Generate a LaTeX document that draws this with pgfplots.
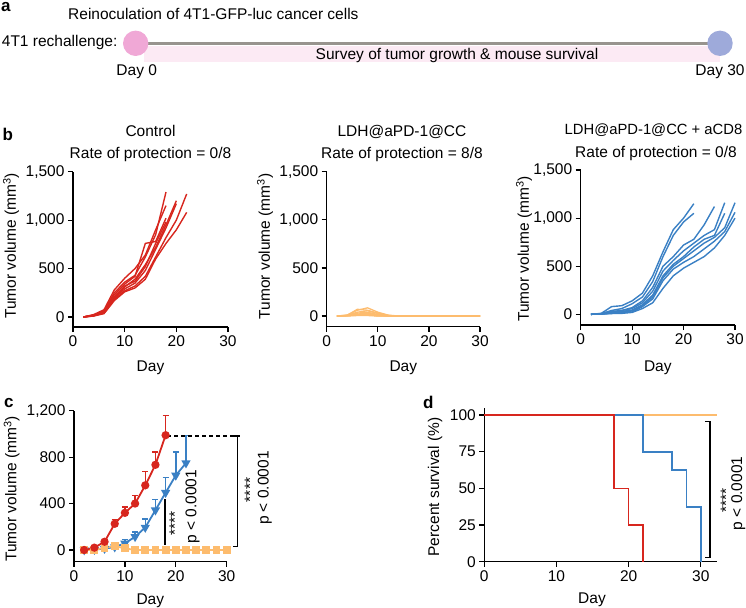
\documentclass[border=0pt]{standalone}
\usepackage{fontspec}
\setmainfont{Liberation Sans}
\usepackage{pgfplots}
\pgfplotsset{compat=1.18}
\definecolor{cred}{RGB}{215,38,30}
\definecolor{cblue}{RGB}{58,128,196}
\definecolor{corange}{RGB}{253,188,110}
\definecolor{cpink}{RGB}{240,168,214}
\definecolor{cperi}{RGB}{158,170,218}
\definecolor{cgrayline}{RGB}{152,148,142}
\definecolor{cband}{RGB}{252,234,244}
\newcommand{\fs}{\fontsize{15.5}{18}\selectfont}
\newcommand{\fb}{\fontsize{17}{20}\selectfont\bfseries}
\pgfplotsset{gp/.style={scale only axis, axis x line*=bottom, axis y line*=left,
  axis line style={line width=1.3pt, black}, tick style={line width=1.2pt, black},
  major tick length=5pt, tick align=outside, tick label style={font=\fs},
  /pgf/number format/assume math mode=true, /pgf/number format/1000 sep={,},
  scaled ticks=false, clip=false, xtick={0,10,20,30}},
  cr/.style={cred, line width=1.4pt, line join=round, mark=none},
  co/.style={corange, line width=1.3pt, line join=round, mark=none},
  cb/.style={cblue, line width=1.4pt, line join=round, mark=none}}
\begin{document}
\begin{tikzpicture}
\path[use as bounding box] (0,0) rectangle (746pt,-607pt);
% ---------- panel a
\node[anchor=base west, font=\fb, inner sep=0] at (1pt,-12pt) {a};
\node[anchor=base west, font=\fs, inner sep=0] at (68pt,-20pt) {Reinoculation of 4T1-GFP-luc cancer cells};
\node[anchor=base west, font=\fs, inner sep=0] at (1.7pt,-46.7pt) {4T1 rechallenge:};
\fill[cband] (144pt,-45.7pt) rectangle (720pt,-61.7pt);
\draw[cgrayline, line width=2.7pt] (140pt,-43.3pt) -- (712pt,-43.3pt);
\fill[cpink] (135.7pt,-43.3pt) circle (12.7pt);
\fill[cperi] (720pt,-43.3pt) circle (12.7pt);
\node[anchor=base, font=\fs, inner sep=0] at (457pt,-59.5pt) {Survey of tumor growth \& mouse survival};
\node[anchor=base, font=\fs, inner sep=0] at (136.7pt,-76pt) {Day 0};
\node[anchor=base, font=\fs, inner sep=0] at (720pt,-76pt) {Day 30};
% ---------- panel b letters and titles
\node[anchor=base west, font=\fb, inner sep=0] at (2.5pt,-140pt) {b};
\node[anchor=base, font=\fs, inner sep=0] at (150.5pt,-136pt) {Control};
\node[anchor=base, font=\fs, inner sep=0] at (150.5pt,-158pt) {Rate of protection = 0/8};
\node[anchor=base, font=\fs, inner sep=0] at (402pt,-136pt) {LDH@aPD-1@CC};
\node[anchor=base, font=\fs, inner sep=0] at (402pt,-158pt) {Rate of protection = 8/8};
\node[anchor=base, font=\fontsize{14.8}{18}\selectfont, inner sep=0] at (653.5pt,-135pt) {LDH@aPD-1@CC + aCD8};
\node[anchor=base, font=\fs, inner sep=0] at (656pt,-157pt) {Rate of protection = 0/8};
\node[rotate=90, font=\fs, inner sep=0] at (11pt,-246pt) {Tumor volume (mm\textsuperscript{3})};
\node[rotate=90, font=\fs, inner sep=0] at (265pt,-246.5pt) {Tumor volume (mm\textsuperscript{3})};
\node[rotate=90, font=\fs, inner sep=0] at (524pt,-249pt) {Tumor volume (mm\textsuperscript{3})};
\node[anchor=base, font=\fs, inner sep=0] at (150.5pt,-371pt) {Day};
\node[anchor=base, font=\fs, inner sep=0] at (403.3pt,-371pt) {Day};
\node[anchor=base, font=\fs, inner sep=0] at (657.8pt,-371pt) {Day};
% ---------- panel c/d letters and labels
\node[anchor=base west, font=\fb, inner sep=0] at (4pt,-407pt) {c};
\node[anchor=base west, font=\fb, inner sep=0] at (423pt,-408pt) {d};
\node[rotate=90, font=\fs, inner sep=0] at (11.7pt,-489pt) {Tumor volume (mm\textsuperscript{3})};
\node[rotate=90, font=\fs, inner sep=0] at (435pt,-487pt) {Percent survival (\%)};
\node[anchor=base, font=\fs, inner sep=0] at (150.3pt,-604pt) {Day};
\node[anchor=base, font=\fs, inner sep=0] at (592pt,-603pt) {Day};

% ---------- b1 Control
\begin{axis}[gp, at={(73pt,-327pt)}, anchor=south west, width=155pt, height=155.3pt,
  xmin=0, xmax=30, ymin=-103, ymax=1500, ytick={0,500,1000,1500}]
\addplot[cr] coordinates {(2,0)(4,20)(6,60)(8,250)(10,360)(12,430)(14,620)(16,850)(18,1290)};
\addplot[cr] coordinates {(2,0)(4,25)(6,75)(8,280)(10,400)(12,500)(14,640)(16,900)(18,1150)};
\addplot[cr] coordinates {(2,0)(4,15)(6,55)(8,230)(10,340)(12,420)(14,760)(16,780)(18,1020)};
\addplot[cr] coordinates {(2,0)(4,20)(6,65)(8,210)(10,320)(12,370)(14,520)(16,760)(18,980)};
\addplot[cr] coordinates {(2,0)(4,18)(6,50)(8,200)(10,310)(12,390)(14,540)(16,720)(18,950)(20,1200)};
\addplot[cr] coordinates {(2,0)(4,12)(6,45)(8,190)(10,290)(12,350)(14,480)(16,700)(18,920)(20,1170)};
\addplot[cr] coordinates {(2,0)(4,15)(6,40)(8,180)(10,270)(12,320)(14,420)(16,620)(18,820)(20,1000)(22,1270)};
\addplot[cr] coordinates {(2,0)(4,10)(6,35)(8,170)(10,260)(12,300)(14,390)(16,600)(18,760)(20,900)(22,1080)};
\end{axis}

% ---------- b2 LDH@aPD-1@CC
\begin{axis}[gp, at={(326.7pt,-326.7pt)}, anchor=south west, width=153.3pt, height=155pt,
  xmin=0, xmax=30, ymin=-111, ymax=1500, ytick={0,500,1000,1500}]
\addplot[co] coordinates {(2,0)(4,10)(6,60)(8,85)(10,40)(12,10)(14,0)(16,0)(18,0)(20,0)(22,0)(24,0)(26,0)(28,0)(30,0)};
\addplot[co] coordinates {(2,0)(4,8)(6,70)(8,60)(10,30)(12,5)(14,0)(16,0)(18,0)(20,0)(22,0)(24,0)(26,0)(28,0)(30,0)};
\addplot[co] coordinates {(2,0)(4,6)(6,40)(8,55)(10,25)(12,5)(14,0)(16,0)(18,0)(20,0)(22,0)(24,0)(26,0)(28,0)(30,0)};
\addplot[co] coordinates {(2,0)(4,5)(6,30)(8,40)(10,15)(12,0)(14,0)(16,0)(18,0)(20,0)(22,0)(24,0)(26,0)(28,0)(30,0)};
\addplot[co] coordinates {(2,0)(4,4)(6,20)(8,30)(10,10)(12,0)(14,0)(16,0)(18,0)(20,0)(22,0)(24,0)(26,0)(28,0)(30,0)};
\addplot[co] coordinates {(2,0)(4,3)(6,15)(8,20)(10,5)(12,0)(14,0)(16,0)(18,0)(20,0)(22,0)(24,0)(26,0)(28,0)(30,0)};
\addplot[co] coordinates {(2,0)(4,2)(6,10)(8,12)(10,0)(12,0)(14,0)(16,0)(18,0)(20,0)(22,0)(24,0)(26,0)(28,0)(30,0)};
\addplot[co] coordinates {(2,0)(4,0)(6,5)(8,5)(10,0)(12,0)(14,0)(16,0)(18,0)(20,0)(22,0)(24,0)(26,0)(28,0)(30,0)};
\end{axis}

% ---------- b3 LDH@aPD-1@CC + aCD8
\begin{axis}[gp, at={(580.7pt,-325pt)}, anchor=south west, width=154.3pt, height=155pt,
  xmin=0, xmax=30, ymin=-111, ymax=1500, ytick={0,500,1000,1500}]
\addplot[cb] coordinates {(2,0)(4,10)(6,80)(8,90)(10,140)(12,220)(14,400)(16,650)(18,880)(20,1000)(22,1150)};
\addplot[cb] coordinates {(2,0)(4,8)(6,40)(8,60)(10,110)(12,180)(14,340)(16,600)(18,820)(20,960)(22,1050)};
\addplot[cb] coordinates {(2,0)(4,5)(6,25)(8,40)(10,70)(12,140)(14,280)(16,500)(18,600)(20,720)(22,780)(24,930)(26,1120)};
\addplot[cb] coordinates {(2,0)(4,5)(6,30)(8,40)(10,60)(12,120)(14,240)(16,450)(18,560)(20,660)(22,740)(24,820)(26,880)(28,1160)};
\addplot[cb] coordinates {(2,0)(4,5)(6,20)(8,30)(10,45)(12,100)(14,200)(16,400)(18,520)(20,600)(22,700)(24,780)(26,820)(28,1050)};
\addplot[cb] coordinates {(2,0)(4,3)(6,15)(8,25)(10,35)(12,90)(14,180)(16,380)(18,500)(20,580)(22,660)(24,740)(26,800)(28,900)(30,1160)};
\addplot[cb] coordinates {(2,0)(4,3)(6,10)(8,15)(10,25)(12,80)(14,160)(16,350)(18,470)(20,540)(22,600)(24,680)(26,760)(28,860)(30,1060)};
\addplot[cb] coordinates {(2,0)(4,2)(6,8)(8,10)(10,20)(12,60)(14,120)(16,270)(18,400)(20,480)(22,540)(24,600)(26,690)(28,820)(30,1000)};
\end{axis}

% ---------- c mean +- SEM
\begin{axis}[gp, at={(74pt,-561.7pt)}, anchor=south west, width=152.7pt, height=151pt,
  xmin=0, xmax=30, ymin=-101, ymax=1200, ytick={0,400,800,1200}]
\addplot[cblue, line width=1.8pt, mark=triangle*, mark size=3.6pt, mark options={rotate=180},
  error bars/.cd, y dir=plus, y explicit, error bar style={line width=1.5pt},
  error mark options={rotate=90, mark size=3pt, line width=1.5pt}]
  coordinates {(2,0)+-(0,3) (4,3)+-(0,4) (6,12)+-(0,8) (8,25)+-(0,18) (10,57)+-(0,34)
  (12,114)+-(0,43) (14,194)+-(0,72) (16,343)+-(0,94) (18,494)+-(0,132) (20,643)+-(0,200) (22,749)+-(0,237)};
\addplot[corange, line width=1.8pt, mark=square*, mark size=3pt,
  error bars/.cd, y dir=plus, y explicit, error bar style={line width=1.5pt},
  error mark options={rotate=90, mark size=3pt, line width=1.5pt}]
  coordinates {(2,0)+-(0,0) (4,0)+-(0,3) (6,20)+-(0,8) (8,34)+-(0,20) (10,14)+-(0,10) (12,0)+-(0,0)
  (14,0)+-(0,0) (16,0)+-(0,0) (18,0)+-(0,0) (20,0)+-(0,0) (22,0)+-(0,0) (24,0)+-(0,0) (26,0)+-(0,0) (28,0)+-(0,0) (30,0)+-(0,0)};
\addplot[cred, line width=1.8pt, mark=*, mark size=3.2pt,
  error bars/.cd, y dir=plus, y explicit, error bar style={line width=1.5pt},
  error mark options={rotate=90, mark size=3pt, line width=1.5pt}]
  coordinates {(2,0)+-(0,5) (4,20)+-(0,8) (6,71)+-(0,15) (8,226)+-(0,37) (10,320)+-(0,51)
  (12,400)+-(0,69) (14,557)+-(0,120) (16,734)+-(0,109) (18,989)+-(0,171)};
% annotations
\draw[black, line width=1.3pt, dash pattern=on 4pt off 3pt] (axis cs:18.3,982) -- (axis cs:32.6,982);
\draw[black, line width=1.3pt] (axis cs:31.3,982) -- (axis cs:32.16,982) -- (axis cs:32.16,28) -- (axis cs:31.3,28);
\node[rotate=90, font=\fs, inner sep=0] at (axis cs:34.6,517) {****};
\node[rotate=90, font=\fs, inner sep=0] at (axis cs:37.5,533) {p < 0.0001};
\draw[black, line width=1.3pt] (axis cs:17.9,439) -- (axis cs:17.9,43);
\node[rotate=90, font=\fs, inner sep=0] at (axis cs:19.8,232) {****};
\node[rotate=90, font=\fs, inner sep=0] at (axis cs:23.3,373) {p < 0.0001};
\end{axis}

% ---------- d survival
\begin{axis}[gp, at={(484.3pt,-561.7pt)}, anchor=south west, width=232.4pt, height=153.7pt,
  xmin=0, xmax=32.2, ymin=0, ymax=104.8, ytick={0,25,50,75,100}]
\addplot[corange, line width=1.6pt] coordinates {(0,100)(32.2,100)};
\addplot[cblue, line width=1.6pt] coordinates {(0,100)(22,100)(22,75)(26,75)(26,62.5)(28,62.5)(28,37.5)(30,37.5)(30,0)};
\addplot[cred, line width=1.6pt] coordinates {(0,100)(18,100)(18,50)(20,50)(20,25)(22,25)(22,0)};
\draw[black, line width=1.3pt] (axis cs:30.55,95.4) -- (axis cs:31.25,95.4) -- (axis cs:31.25,3) -- (axis cs:30.55,3);
\node[rotate=90, font=\fs, inner sep=0] at (axis cs:33.5,42) {****};
\node[rotate=90, font=\fs, inner sep=0] at (axis cs:35.2,46.6) {p < 0.0001};
\end{axis}
\end{tikzpicture}
\end{document}
